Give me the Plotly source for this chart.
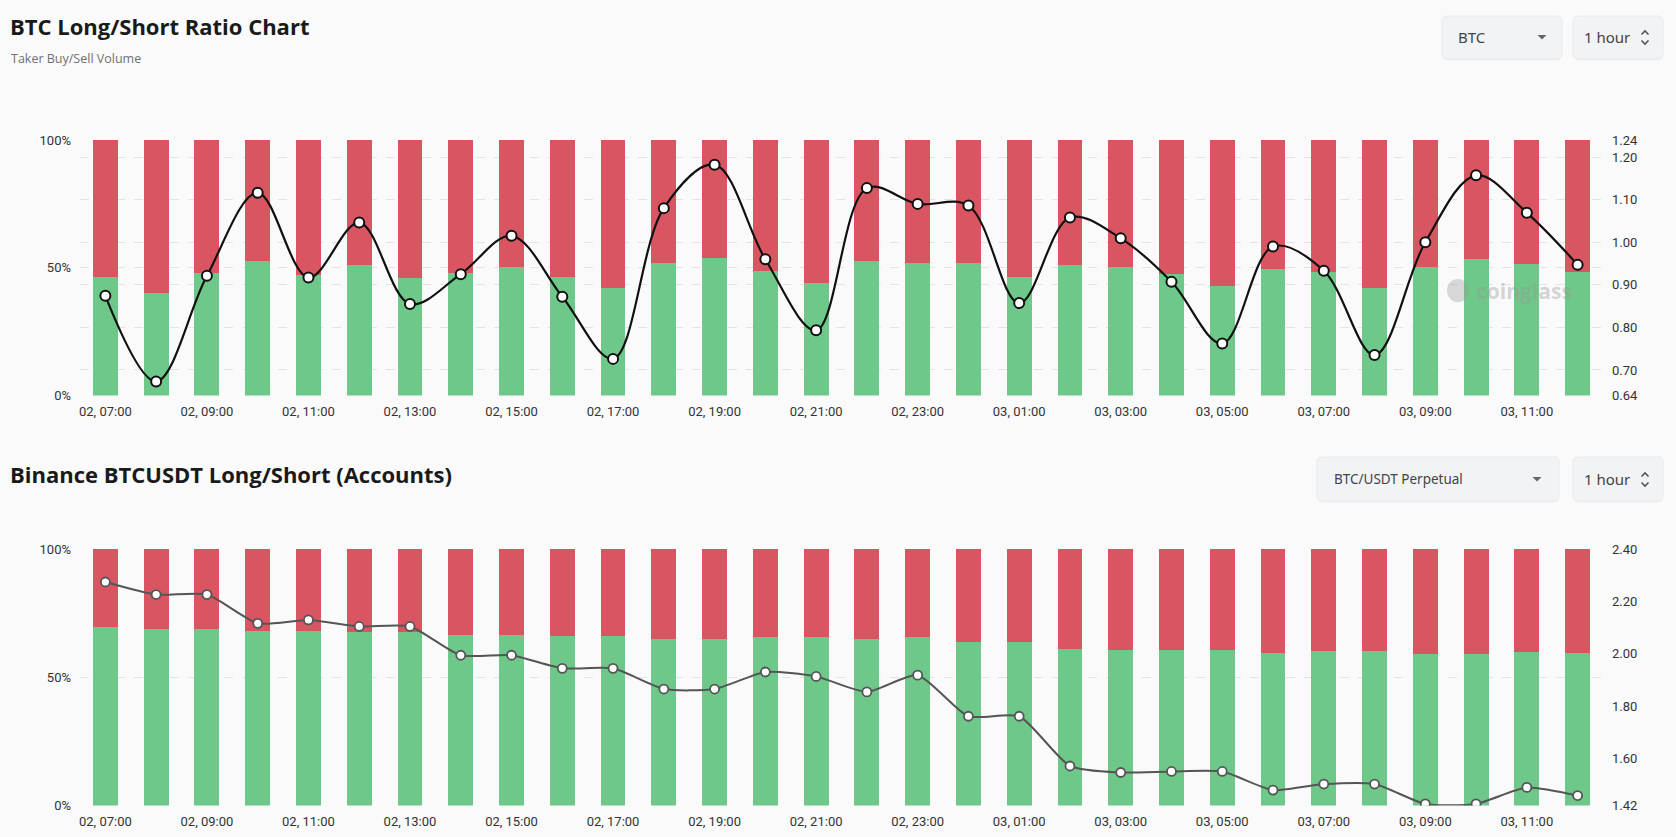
import plotly.graph_objects as go

W, H = 1676, 837

times = ["02, 07:00", "02, 08:00", "02, 09:00", "02, 10:00", "02, 11:00", "02, 12:00",
         "02, 13:00", "02, 14:00", "02, 15:00", "02, 16:00", "02, 17:00", "02, 18:00",
         "02, 19:00", "02, 20:00", "02, 21:00", "02, 22:00", "02, 23:00", "03, 00:00",
         "03, 01:00", "03, 02:00", "03, 03:00", "03, 04:00", "03, 05:00", "03, 06:00",
         "03, 07:00", "03, 08:00", "03, 09:00", "03, 10:00", "03, 11:00", "03, 12:00"]

# Top chart: taker buy (long) share % and buy/sell ratio
taker_long_pct = [46.5, 40.0, 47.8, 52.7, 47.2, 51.1, 45.9, 47.8, 50.2, 46.5,
                  41.9, 51.8, 54.0, 48.9, 44.2, 52.8, 52.0, 52.0, 46.2, 51.2,
                  50.1, 47.5, 43.0, 49.5, 48.2, 42.2, 50.1, 53.5, 51.6, 48.5]
taker_ratio = [0.874, 0.673, 0.921, 1.116, 0.917, 1.046, 0.855, 0.925, 1.015, 0.872,
               0.726, 1.080, 1.182, 0.960, 0.793, 1.127, 1.090, 1.086, 0.857, 1.058,
               1.009, 0.907, 0.762, 0.990, 0.933, 0.735, 1.000, 1.157, 1.069, 0.947]

# Bottom chart: Binance BTCUSDT accounts long % and long/short ratio
acct_long_pct = [69.5, 69.0, 69.0, 68.1, 68.1, 67.8, 67.8, 66.6, 66.6, 66.0,
                 66.0, 65.1, 65.1, 65.8, 65.6, 64.9, 65.7, 63.8, 63.9, 61.1,
                 60.8, 60.8, 60.8, 59.6, 60.1, 60.1, 58.9, 58.9, 59.7, 59.5]
acct_ratio = [2.274, 2.226, 2.226, 2.116, 2.129, 2.104, 2.104, 1.994, 1.994, 1.944,
              1.944, 1.865, 1.865, 1.930, 1.913, 1.854, 1.918, 1.761, 1.761, 1.571,
              1.546, 1.550, 1.550, 1.479, 1.502, 1.502, 1.426, 1.426, 1.489, 1.458]

top_right_ticks = [0.64, 0.70, 0.80, 0.90, 1.00, 1.10, 1.20, 1.24]
bot_right_ticks = [1.42, 1.60, 1.80, 2.00, 2.20, 2.40]
pct_ticks = [0, 50, 100]
pct_labels = ["0%", "50%", "100%"]

GREEN = "#6ec889"
RED = "#d95562"
BG = "#fafafa"
GRID = "#e4e4e4"
TICKFONT = dict(family="Roboto", size=13, color="#333333")

taker_short_pct = [round(100 - v, 1) for v in taker_long_pct]
acct_short_pct = [round(100 - v, 1) for v in acct_long_pct]


def px(x):
    return x / W


def py(y):
    return 1 - y / H


fig = go.Figure()

# top chart
fig.add_trace(go.Bar(x=times, y=taker_long_pct, marker=dict(color=GREEN, line=dict(width=0)),
                     width=0.49, xaxis="x", yaxis="y", showlegend=False))
fig.add_trace(go.Bar(x=times, y=taker_short_pct, marker=dict(color=RED, line=dict(width=0)),
                     width=0.49, xaxis="x", yaxis="y", showlegend=False))
fig.add_trace(go.Scatter(x=times, y=taker_ratio, mode="lines+markers",
                         line=dict(color="#111111", width=2.2, shape="spline", smoothing=1),
                         marker=dict(size=10, color="white", line=dict(color="#111111", width=2)),
                         xaxis="x", yaxis="y2", showlegend=False))

# bottom chart
fig.add_trace(go.Bar(x=times, y=acct_long_pct, marker=dict(color=GREEN, line=dict(width=0)),
                     width=0.49, xaxis="x2", yaxis="y3", showlegend=False))
fig.add_trace(go.Bar(x=times, y=acct_short_pct, marker=dict(color=RED, line=dict(width=0)),
                     width=0.49, xaxis="x2", yaxis="y3", showlegend=False))
fig.add_trace(go.Scatter(x=times, y=acct_ratio, mode="lines+markers",
                         line=dict(color="#555555", width=2, shape="spline", smoothing=0.6),
                         marker=dict(size=9, color="white", line=dict(color="#555555", width=1.8)),
                         xaxis="x2", yaxis="y4", showlegend=False))

xdom = [px(80), px(1603)]
top_dom = [py(395.5), py(140)]
bot_dom = [py(805.5), py(549)]

xcommon = dict(type="category", range=[-0.5, 29.5], tickmode="array", tickvals=times[::2],
               showgrid=False, zeroline=False, showline=False, ticks="", automargin=False,
               tickfont=TICKFONT, ticklabelstandoff=6, domain=xdom)
ycommon = dict(zeroline=False, tickfont=TICKFONT, ticklabelstandoff=8, automargin=False,
               tickmode="array", gridcolor=GRID, griddash="dash")

fig.update_layout(
    width=W, height=H,
    margin=dict(l=0, r=0, t=0, b=0, autoexpand=False),
    paper_bgcolor=BG, plot_bgcolor=BG,
    barmode="stack", bargap=0.5,
    hovermode=False,
    xaxis=dict(anchor="y", **xcommon),
    xaxis2=dict(anchor="y3", **xcommon),
    yaxis=dict(domain=top_dom, range=[0, 100], tickvals=pct_ticks, ticktext=pct_labels,
               showgrid=True, anchor="x", **ycommon),
    yaxis2=dict(domain=top_dom, range=[0.64, 1.24], overlaying="y", side="right",
                tickvals=top_right_ticks, ticktext=[f"{v:.2f}" for v in top_right_ticks],
                showgrid=True, anchor="x", **ycommon),
    yaxis3=dict(domain=bot_dom, range=[0, 100], tickvals=pct_ticks, ticktext=pct_labels,
                showgrid=True, anchor="x2", **ycommon),
    yaxis4=dict(domain=bot_dom, range=[1.42, 2.40], overlaying="y3", side="right",
                tickvals=bot_right_ticks, ticktext=[f"{v:.2f}" for v in bot_right_ticks],
                showgrid=False, anchor="x2", **ycommon),
)

TITLE_FONT = dict(family="Open Sans", size=22, color="#1a1a1a")
annotations = [
    dict(text="<b>BTC Long/Short Ratio Chart</b>", x=px(8), y=py(26), font=TITLE_FONT),
    dict(text="Taker Buy/Sell Volume", x=px(9), y=py(58),
         font=dict(family="Open Sans", size=12.5, color="#707070")),
    dict(text="<b>Binance BTCUSDT Long/Short (Accounts)</b>", x=px(8), y=py(474), font=TITLE_FONT),
    dict(text="BTC", x=px(1456), y=py(37), font=dict(family="Noto Sans", size=15, color="#444444")),
    dict(text="1 hour", x=px(1582), y=py(37), font=dict(family="Noto Sans", size=15, color="#444444")),
    dict(text="BTC/USDT Perpetual", x=px(1332), y=py(479),
         font=dict(family="Noto Sans", size=13.5, color="#444444")),
    dict(text="1 hour", x=px(1582), y=py(479), font=dict(family="Noto Sans", size=15, color="#444444")),
    dict(text="<b>coinglass</b>", x=px(1474), y=py(291),
         font=dict(family="Open Sans", size=21, color="rgba(150,150,150,0.4)")),
]
for a in annotations:
    a.update(xref="paper", yref="paper", xanchor="left", yanchor="middle", showarrow=False)
fig.update_layout(annotations=annotations)


def rrect(x0, y0, x1, y1, r):
    X = lambda v: f"{px(v):.6f}"
    Y = lambda v: f"{py(v):.6f}"
    return (f"M {X(x0 + r)},{Y(y0)} L {X(x1 - r)},{Y(y0)} Q {X(x1)},{Y(y0)} {X(x1)},{Y(y0 + r)} "
            f"L {X(x1)},{Y(y1 - r)} Q {X(x1)},{Y(y1)} {X(x1 - r)},{Y(y1)} "
            f"L {X(x0 + r)},{Y(y1)} Q {X(x0)},{Y(y1)} {X(x0)},{Y(y1 - r)} "
            f"L {X(x0)},{Y(y0 + r)} Q {X(x0)},{Y(y0)} {X(x0 + r)},{Y(y0)} Z")


def pth(points, close=False):
    s = "M " + " L ".join(f"{px(x):.6f},{py(y):.6f}" for x, y in points)
    return s + (" Z" if close else "")


shapes = []
for (x0, y0, x1, y1) in [(1442, 16, 1562, 59), (1573, 16, 1663, 59),
                         (1317, 457, 1559, 501), (1573, 457, 1663, 501)]:
    shapes.append(dict(type="path", path=rrect(x0, y0 + 1.5, x1, y1 + 1.5, 6),
                       fillcolor="rgba(0,0,0,0.04)", line=dict(width=0)))
    shapes.append(dict(type="path", path=rrect(x0, y0, x1, y1, 6),
                       fillcolor="#f2f3f5", line=dict(color="#e9eaec", width=1)))
# dropdown triangles
for (cx, cy) in [(1542, 37), (1537, 479)]:
    shapes.append(dict(type="path", path=pth([(cx - 4.5, cy - 2), (cx + 4.5, cy - 2), (cx, cy + 2.5)], True),
                       fillcolor="#666666", line=dict(width=0)))
# up/down chevrons
for (cx, cy) in [(1645, 37.5), (1645, 479.5)]:
    shapes.append(dict(type="path", path=pth([(cx - 3.5, cy - 3), (cx, cy - 6.5), (cx + 3.5, cy - 3)]),
                       line=dict(color="#555555", width=1.6)))
    shapes.append(dict(type="path", path=pth([(cx - 3.5, cy + 3), (cx, cy + 6.5), (cx + 3.5, cy + 3)]),
                       line=dict(color="#555555", width=1.6)))
# watermark logo blob
shapes.append(dict(type="circle", x0=px(1447), x1=px(1469), y0=py(302), y1=py(279),
                   fillcolor="rgba(150,150,150,0.35)", line=dict(width=0)))
for s in shapes:
    s.update(xref="paper", yref="paper", layer="above")
fig.update_layout(shapes=shapes)

fig.write_html("out.html", config={"displayModeBar": False},
               post_script="document.body.style.margin='0';document.body.style.background='#fafafa';")
